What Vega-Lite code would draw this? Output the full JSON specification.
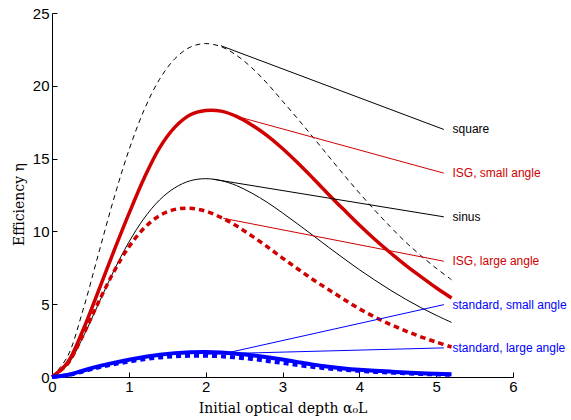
{
  "$schema": "https://vega.github.io/schema/vega-lite/v6.json",
  "width": 461,
  "height": 364,
  "autosize": {"type": "none"},
  "padding": {"left": 52, "top": 13, "right": 58, "bottom": 43},
  "background": "white",
  "config": {
    "view": {"stroke": null},
    "axis": {
      "grid": false,
      "domainColor": "black",
      "domainWidth": 1,
      "tickColor": "black",
      "tickWidth": 1,
      "tickSize": -5,
      "labelFont": "Liberation Sans",
      "labelFontSize": 15,
      "labelColor": "black",
      "titleFont": "DejaVu Serif",
      "titleFontSize": 14,
      "titleFontWeight": "normal",
      "titleColor": "black"
    }
  },
  "datasets": {
    "curves": [
      {"s": "square", "x": 0, "y": 0}, {"s": "square", "x": 0.2, "y": 1.39}, {"s": "square", "x": 0.4, "y": 4.54}, {"s": "square", "x": 0.6, "y": 8.36}, {"s": "square", "x": 0.8, "y": 12.16}, {"s": "square", "x": 1.0, "y": 15.56}, {"s": "square", "x": 1.2, "y": 18.35}, {"s": "square", "x": 1.4, "y": 20.45}, {"s": "square", "x": 1.6, "y": 21.86}, {"s": "square", "x": 1.8, "y": 22.66}, {"s": "square", "x": 2.0, "y": 22.9}, {"s": "square", "x": 2.2, "y": 22.69}, {"s": "square", "x": 2.4, "y": 22.1}, {"s": "square", "x": 2.6, "y": 21.24}, {"s": "square", "x": 2.8, "y": 20.17}, {"s": "square", "x": 3.0, "y": 18.95}, {"s": "square", "x": 3.2, "y": 17.72}, {"s": "square", "x": 3.4, "y": 16.45}, {"s": "square", "x": 3.6, "y": 15.16}, {"s": "square", "x": 3.8, "y": 13.88}, {"s": "square", "x": 4.0, "y": 12.64}, {"s": "square", "x": 4.2, "y": 11.46}, {"s": "square", "x": 4.4, "y": 10.34}, {"s": "square", "x": 4.6, "y": 9.28}, {"s": "square", "x": 4.8, "y": 8.34}, {"s": "square", "x": 5.0, "y": 7.47}, {"s": "square", "x": 5.2, "y": 6.68},
      {"s": "isgs", "x": 0, "y": 0}, {"s": "isgs", "x": 0.2, "y": 0.97}, {"s": "isgs", "x": 0.4, "y": 3.18}, {"s": "isgs", "x": 0.6, "y": 5.85}, {"s": "isgs", "x": 0.8, "y": 8.57}, {"s": "isgs", "x": 1.0, "y": 11.2}, {"s": "isgs", "x": 1.2, "y": 13.67}, {"s": "isgs", "x": 1.4, "y": 15.74}, {"s": "isgs", "x": 1.6, "y": 17.16}, {"s": "isgs", "x": 1.8, "y": 18.01}, {"s": "isgs", "x": 2.0, "y": 18.3}, {"s": "isgs", "x": 2.2, "y": 18.26}, {"s": "isgs", "x": 2.4, "y": 17.9}, {"s": "isgs", "x": 2.6, "y": 17.31}, {"s": "isgs", "x": 2.8, "y": 16.58}, {"s": "isgs", "x": 3.0, "y": 15.69}, {"s": "isgs", "x": 3.2, "y": 14.69}, {"s": "isgs", "x": 3.4, "y": 13.63}, {"s": "isgs", "x": 3.6, "y": 12.54}, {"s": "isgs", "x": 3.8, "y": 11.48}, {"s": "isgs", "x": 4.0, "y": 10.44}, {"s": "isgs", "x": 4.2, "y": 9.46}, {"s": "isgs", "x": 4.4, "y": 8.55}, {"s": "isgs", "x": 4.6, "y": 7.69}, {"s": "isgs", "x": 4.8, "y": 6.9}, {"s": "isgs", "x": 5.0, "y": 6.13}, {"s": "isgs", "x": 5.2, "y": 5.43},
      {"s": "sinus", "x": 0, "y": 0}, {"s": "sinus", "x": 0.2, "y": 0.82}, {"s": "sinus", "x": 0.4, "y": 2.7}, {"s": "sinus", "x": 0.6, "y": 4.97}, {"s": "sinus", "x": 0.8, "y": 7.24}, {"s": "sinus", "x": 1.0, "y": 9.26}, {"s": "sinus", "x": 1.2, "y": 10.91}, {"s": "sinus", "x": 1.4, "y": 12.16}, {"s": "sinus", "x": 1.6, "y": 13.0}, {"s": "sinus", "x": 1.8, "y": 13.48}, {"s": "sinus", "x": 2.0, "y": 13.62}, {"s": "sinus", "x": 2.2, "y": 13.49}, {"s": "sinus", "x": 2.4, "y": 13.15}, {"s": "sinus", "x": 2.6, "y": 12.63}, {"s": "sinus", "x": 2.8, "y": 12.0}, {"s": "sinus", "x": 3.0, "y": 11.27}, {"s": "sinus", "x": 3.2, "y": 10.5}, {"s": "sinus", "x": 3.4, "y": 9.71}, {"s": "sinus", "x": 3.6, "y": 8.91}, {"s": "sinus", "x": 3.8, "y": 8.13}, {"s": "sinus", "x": 4.0, "y": 7.37}, {"s": "sinus", "x": 4.2, "y": 6.66}, {"s": "sinus", "x": 4.4, "y": 5.98}, {"s": "sinus", "x": 4.6, "y": 5.35}, {"s": "sinus", "x": 4.8, "y": 4.77}, {"s": "sinus", "x": 5.0, "y": 4.24}, {"s": "sinus", "x": 5.2, "y": 3.75},
      {"s": "isgl", "x": 0, "y": 0}, {"s": "isgl", "x": 0.2, "y": 0.89}, {"s": "isgl", "x": 0.4, "y": 2.84}, {"s": "isgl", "x": 0.6, "y": 5.08}, {"s": "isgl", "x": 0.8, "y": 7.18}, {"s": "isgl", "x": 1.0, "y": 8.93}, {"s": "isgl", "x": 1.2, "y": 10.23}, {"s": "isgl", "x": 1.4, "y": 11.08}, {"s": "isgl", "x": 1.6, "y": 11.51}, {"s": "isgl", "x": 1.8, "y": 11.59}, {"s": "isgl", "x": 2.0, "y": 11.39}, {"s": "isgl", "x": 2.2, "y": 10.96}, {"s": "isgl", "x": 2.4, "y": 10.38}, {"s": "isgl", "x": 2.6, "y": 9.69}, {"s": "isgl", "x": 2.8, "y": 8.95}, {"s": "isgl", "x": 3.0, "y": 8.17}, {"s": "isgl", "x": 3.2, "y": 7.42}, {"s": "isgl", "x": 3.4, "y": 6.68}, {"s": "isgl", "x": 3.6, "y": 6.0}, {"s": "isgl", "x": 3.8, "y": 5.33}, {"s": "isgl", "x": 4.0, "y": 4.68}, {"s": "isgl", "x": 4.2, "y": 4.12}, {"s": "isgl", "x": 4.4, "y": 3.62}, {"s": "isgl", "x": 4.6, "y": 3.17}, {"s": "isgl", "x": 4.8, "y": 2.76}, {"s": "isgl", "x": 5.0, "y": 2.4}, {"s": "isgl", "x": 5.2, "y": 2.06},
      {"s": "stds", "x": 0, "y": 0}, {"s": "stds", "x": 0.2, "y": 0.14}, {"s": "stds", "x": 0.4, "y": 0.43}, {"s": "stds", "x": 0.6, "y": 0.73}, {"s": "stds", "x": 0.8, "y": 0.97}, {"s": "stds", "x": 1.0, "y": 1.18}, {"s": "stds", "x": 1.2, "y": 1.37}, {"s": "stds", "x": 1.4, "y": 1.53}, {"s": "stds", "x": 1.6, "y": 1.64}, {"s": "stds", "x": 1.8, "y": 1.7}, {"s": "stds", "x": 2.0, "y": 1.72}, {"s": "stds", "x": 2.2, "y": 1.68}, {"s": "stds", "x": 2.4, "y": 1.6}, {"s": "stds", "x": 2.6, "y": 1.5}, {"s": "stds", "x": 2.8, "y": 1.36}, {"s": "stds", "x": 3.0, "y": 1.2}, {"s": "stds", "x": 3.2, "y": 1.02}, {"s": "stds", "x": 3.4, "y": 0.85}, {"s": "stds", "x": 3.6, "y": 0.71}, {"s": "stds", "x": 3.8, "y": 0.59}, {"s": "stds", "x": 4.0, "y": 0.5}, {"s": "stds", "x": 4.2, "y": 0.43}, {"s": "stds", "x": 4.4, "y": 0.37}, {"s": "stds", "x": 4.6, "y": 0.31}, {"s": "stds", "x": 4.8, "y": 0.26}, {"s": "stds", "x": 5.0, "y": 0.22}, {"s": "stds", "x": 5.2, "y": 0.19},
      {"s": "stdl", "x": 0, "y": 0}, {"s": "stdl", "x": 0.2, "y": 0.12}, {"s": "stdl", "x": 0.4, "y": 0.38}, {"s": "stdl", "x": 0.6, "y": 0.65}, {"s": "stdl", "x": 0.8, "y": 0.87}, {"s": "stdl", "x": 1.0, "y": 1.06}, {"s": "stdl", "x": 1.2, "y": 1.22}, {"s": "stdl", "x": 1.4, "y": 1.34}, {"s": "stdl", "x": 1.6, "y": 1.42}, {"s": "stdl", "x": 1.8, "y": 1.46}, {"s": "stdl", "x": 2.0, "y": 1.46}, {"s": "stdl", "x": 2.2, "y": 1.42}, {"s": "stdl", "x": 2.4, "y": 1.34}, {"s": "stdl", "x": 2.6, "y": 1.24}, {"s": "stdl", "x": 2.8, "y": 1.1}, {"s": "stdl", "x": 3.0, "y": 0.97}, {"s": "stdl", "x": 3.2, "y": 0.82}, {"s": "stdl", "x": 3.4, "y": 0.69}, {"s": "stdl", "x": 3.6, "y": 0.58}, {"s": "stdl", "x": 3.8, "y": 0.49}, {"s": "stdl", "x": 4.0, "y": 0.42}, {"s": "stdl", "x": 4.2, "y": 0.35}, {"s": "stdl", "x": 4.4, "y": 0.3}, {"s": "stdl", "x": 4.6, "y": 0.25}, {"s": "stdl", "x": 4.8, "y": 0.21}, {"s": "stdl", "x": 5.0, "y": 0.18}, {"s": "stdl", "x": 5.2, "y": 0.15}
    ],
    "leaders": [
      {"s": "square", "x": 2.2, "y": 22.75}, {"s": "square", "x": 5.1, "y": 17.0},
      {"s": "isgs", "x": 2.35, "y": 17.98}, {"s": "isgs", "x": 5.1, "y": 14.0},
      {"s": "sinus", "x": 2.1, "y": 13.58}, {"s": "sinus", "x": 5.1, "y": 11.0},
      {"s": "isgl", "x": 2.23, "y": 10.9}, {"s": "isgl", "x": 5.1, "y": 7.95},
      {"s": "stds", "x": 2.3, "y": 1.68}, {"s": "stds", "x": 5.1, "y": 4.97},
      {"s": "stdl", "x": 2.0, "y": 1.57}, {"s": "stdl", "x": 5.1, "y": 2.0}
    ],
    "labels": [
      {"s": "square", "label": "square", "x": 5.2, "y": 17.0},
      {"s": "isgs", "label": "ISG, small angle", "x": 5.2, "y": 14.0},
      {"s": "sinus", "label": "sinus", "x": 5.2, "y": 11.0},
      {"s": "isgl", "label": "ISG, large angle", "x": 5.2, "y": 7.95},
      {"s": "stds", "label": "standard, small angle", "x": 5.2, "y": 4.97},
      {"s": "stdl", "label": "standard, large angle", "x": 5.2, "y": 2.0}
    ]
  },
  "encoding": {
    "x": {
      "field": "x", "type": "quantitative",
      "scale": {"domain": [0, 6], "nice": false, "zero": true},
      "axis": {"title": "Initial optical depth α₀L", "values": [0, 1, 2, 3, 4, 5, 6], "tickSize": -5, "labelPadding": 7, "labelFont": "Liberation Sans", "labelFontSize": 15, "labelFlush": false, "labelOverlap": false, "titleX": 230.5, "titleY": 35, "titleAlign": "center", "titleBaseline": "alphabetic", "titleFont": "DejaVu Serif", "titleFontSize": 14}
    },
    "y": {
      "field": "y", "type": "quantitative",
      "scale": {"domain": [0, 25], "nice": false},
      "axis": {"title": "Efficiency η", "values": [0, 5, 10, 15, 20, 25], "tickSize": -5, "labelPadding": 8, "labelFont": "Liberation Sans", "labelFontSize": 15, "labelFlush": false, "labelOverlap": false, "titleX": -29, "titleY": 191, "titleAngle": 270, "titleAlign": "center", "titleBaseline": "alphabetic", "titleFont": "DejaVu Serif", "titleFontSize": 14}
    }
  },
  "layer": [
    {"data": {"name": "curves"}, "transform": [{"filter": "datum.s === 'square'"}], "mark": {"type": "line", "color": "black", "strokeWidth": 1, "strokeDash": [5, 4], "interpolate": "catmull-rom"}},
    {"data": {"name": "curves"}, "transform": [{"filter": "datum.s === 'sinus'"}], "mark": {"type": "line", "color": "black", "strokeWidth": 1, "interpolate": "catmull-rom"}},
    {"data": {"name": "curves"}, "transform": [{"filter": "datum.s === 'isgs'"}], "mark": {"type": "line", "color": "#d00000", "strokeWidth": 3.5, "interpolate": "catmull-rom"}},
    {"data": {"name": "curves"}, "transform": [{"filter": "datum.s === 'isgl'"}], "mark": {"type": "line", "color": "#d00000", "strokeWidth": 3.5, "strokeDash": [5.5, 4], "interpolate": "catmull-rom"}},
    {"data": {"name": "curves"}, "transform": [{"filter": "datum.s === 'stdl'"}], "mark": {"type": "line", "color": "#0000ff", "strokeWidth": 4, "strokeDash": [5, 4], "interpolate": "catmull-rom"}},
    {"data": {"name": "curves"}, "transform": [{"filter": "datum.s === 'stds'"}], "mark": {"type": "line", "color": "#0000ff", "strokeWidth": 4, "interpolate": "catmull-rom"}},
    {"data": {"name": "leaders"}, "mark": {"type": "line", "strokeWidth": 1},
      "encoding": {"color": {"field": "s", "type": "nominal", "legend": null,
        "scale": {"domain": ["square", "isgs", "sinus", "isgl", "stds", "stdl"], "range": ["black", "#d00000", "black", "#d00000", "#0000ff", "#0000ff"]}}}},
    {"data": {"name": "labels"}, "mark": {"type": "text", "align": "left", "baseline": "middle", "font": "Liberation Sans", "fontSize": 12, "dx": 1},
      "encoding": {"text": {"field": "label"}, "color": {"field": "s", "type": "nominal", "legend": null,
        "scale": {"domain": ["square", "isgs", "sinus", "isgl", "stds", "stdl"], "range": ["black", "#d00000", "black", "#d00000", "#0000ff", "#0000ff"]}}}}
  ]
}
